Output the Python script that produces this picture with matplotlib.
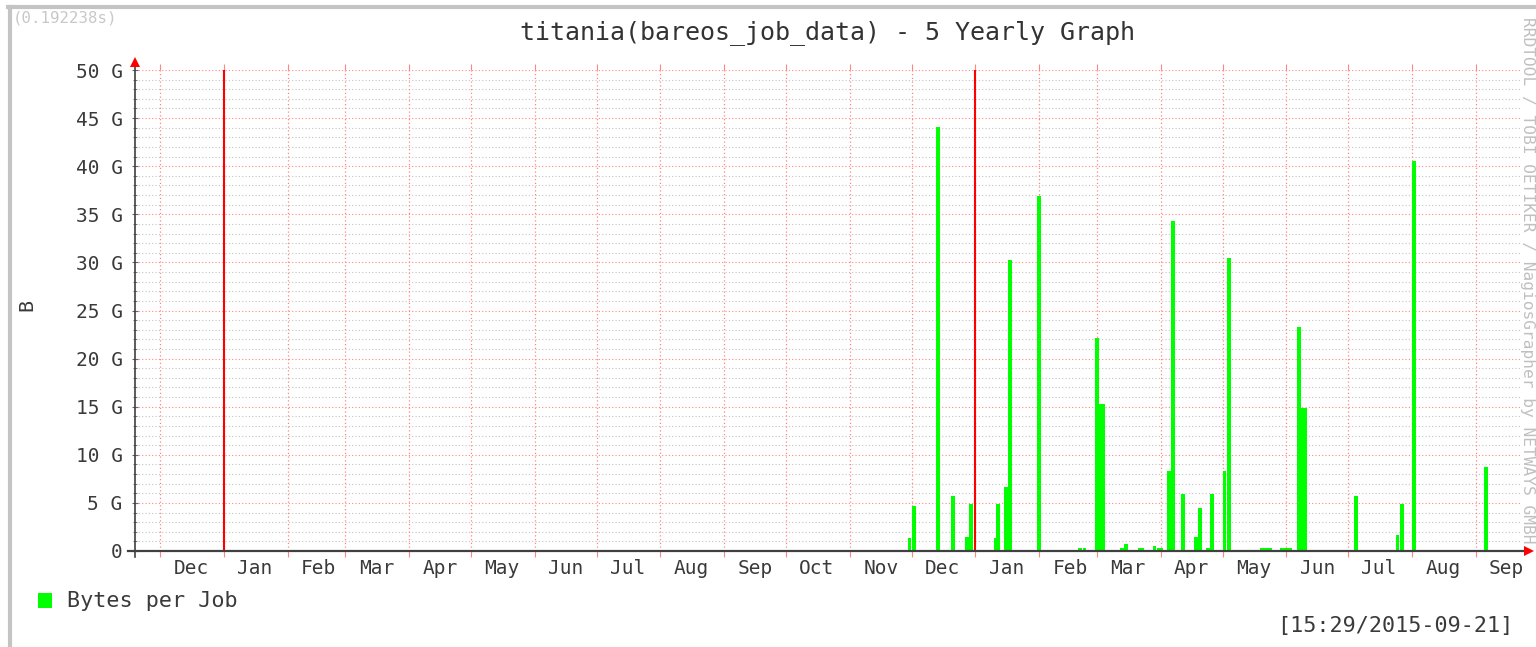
import matplotlib
matplotlib.use("Agg")
import matplotlib.pyplot as plt
import matplotlib.dates as mdates
from matplotlib.patches import Rectangle
from matplotlib.lines import Line2D
from matplotlib.ticker import FixedLocator, FixedFormatter, NullFormatter
from datetime import datetime

# ---------------- data ----------------
job_dates = [
    "2014-11-29", "2014-12-01", "2014-12-13", "2014-12-20", "2014-12-27", "2014-12-29",
    "2015-01-10", "2015-01-11", "2015-01-15", "2015-01-17", "2015-01-31",
    "2015-02-20", "2015-02-22", "2015-02-28", "2015-03-02", "2015-03-03",
    "2015-03-12", "2015-03-14", "2015-03-21", "2015-03-22", "2015-03-28", "2015-03-30", "2015-03-31",
    "2015-04-04", "2015-04-06", "2015-04-11", "2015-04-17", "2015-04-19", "2015-04-23", "2015-04-25",
    "2015-05-01", "2015-05-03", "2015-05-19", "2015-05-21", "2015-05-23", "2015-05-29", "2015-05-31",
    "2015-06-02", "2015-06-06", "2015-06-08", "2015-06-09",
    "2015-07-04", "2015-07-24", "2015-07-26", "2015-08-01", "2015-09-05",
]
job_bytes_gb = [
    1.3, 4.7, 44.1, 5.7, 1.5, 4.9,
    1.3, 4.9, 6.7, 30.3, 36.9,
    0.3, 0.3, 22.1, 15.3, 15.3,
    0.3, 0.7, 0.3, 0.3, 0.5, 0.3, 0.3,
    8.3, 34.3, 5.9, 1.5, 4.5, 0.3, 5.9,
    8.3, 30.5, 0.3, 0.3, 0.3, 0.3, 0.3,
    0.3, 23.3, 14.9, 14.9,
    5.7, 1.7, 4.9, 40.5, 8.7,
]
year_rule_dates = ["2014-01-01", "2015-01-01"]
month_labels = ["Dec", "Jan", "Feb", "Mar", "Apr", "May", "Jun", "Jul", "Aug", "Sep", "Oct", "Nov",
                "Dec", "Jan", "Feb", "Mar", "Apr", "May", "Jun", "Jul", "Aug", "Sep"]
first_label_month = (2013, 12)
y_tick_values = [0, 5, 10, 15, 20, 25, 30, 35, 40, 45, 50]
y_tick_labels = ["0", "5 G", "10 G", "15 G", "20 G", "25 G", "30 G", "35 G", "40 G", "45 G", "50 G"]
x_start = "2013-11-18 18:40"
x_end = "2015-09-23 10:30"

title = "titania(bareos_job_data) - 5 Yearly Graph"
legend_label = "Bytes per Job"
timestamp = "[15:29/2015-09-21]"
timing = "(0.192238s)"
watermark = "RRDTOOL / TOBI OETIKER / NagiosGrapher by NETWAYS GMBH"
y_label = "B"

# ---------------- figure ----------------
W, H = 1536, 647
plt.rcParams["font.family"] = ["DejaVu Sans Mono", "DejaVu Sans"]
fig = plt.figure(figsize=(W / 100, H / 100), dpi=100)
fig.patch.set_facecolor("white")

L, R, T, B = 135, 1522, 70, 551
ax = fig.add_axes([L / W, (H - B) / H, (R - L) / W, (B - T) / H])
ax.set_facecolor("white")

dates = [datetime.strptime(d, "%Y-%m-%d") for d in job_dates]
ax.set_xlim(datetime.strptime(x_start, "%Y-%m-%d %H:%M"), datetime.strptime(x_end, "%Y-%m-%d %H:%M"))
ax.set_ylim(0, 50)

MGRID = "#FF8585"
GRID = "#C4C4C4"
TXT = "#3A3A3A"

# horizontal grid
for v in range(1, 51):
    if v % 5 == 0:
        ax.axhline(v, color=MGRID, lw=0.8, ls=(0, (1, 2)), zorder=1.5)
    else:
        ax.axhline(v, color=GRID, lw=0.8, ls=(0, (1, 2)), zorder=1)

# month boundaries (vertical grid)
month_starts = []
y, m = 2013, 12
while True:
    d = datetime(y, m, 1)
    if d > datetime(2015, 9, 30):
        break
    month_starts.append(d)
    m += 1
    if m > 12:
        m = 1
        y += 1
for d in month_starts:
    ax.axvline(d, color=MGRID, lw=0.9, ls=(0, (1, 2)), zorder=2)

# bars
ax.bar(dates, job_bytes_gb, width=1.9, align="edge", color="#00FF00", linewidth=0, zorder=3)

# year rules
for d in year_rule_dates:
    ax.axvline(datetime.strptime(d, "%Y-%m-%d"), color="#FF0000", lw=1.5, zorder=4)

# ticks
mid_months = []
y, m = first_label_month
for _ in month_labels:
    mid_months.append(mdates.date2num(datetime(y, m, 16)))
    m += 1
    if m > 12:
        m = 1
        y += 1
ax.xaxis.set_major_locator(FixedLocator([mdates.date2num(d) for d in month_starts]))
ax.xaxis.set_major_formatter(NullFormatter())
ax.xaxis.set_minor_locator(FixedLocator(mid_months))
ax.xaxis.set_minor_formatter(FixedFormatter(month_labels))
ax.tick_params(axis="x", which="major", direction="out", length=4, width=0.8, color=MGRID,
               top=True, bottom=True)
ax.tick_params(axis="x", which="minor", length=0, pad=6, labelsize=14, labelcolor=TXT)

ax.yaxis.set_major_locator(FixedLocator(y_tick_values))
ax.yaxis.set_major_formatter(FixedFormatter(y_tick_labels))
ax.yaxis.set_minor_locator(FixedLocator(list(range(0, 51))))
ax.tick_params(axis="y", which="major", direction="inout", length=4, width=0.8, color="#666666",
               pad=7, labelsize=14, labelcolor=TXT)
ax.tick_params(axis="y", which="minor", direction="inout", length=2.5, width=0.6, color="#666666")

for s in ax.spines.values():
    s.set_visible(False)

# axis lines with arrows
ax.plot([0, 0], [-6 / (B - T), (B - 62) / (B - T)], transform=ax.transAxes, color="#404040",
        lw=1.2, clip_on=False, zorder=5)
ax.plot([-7 / (R - L), (1526 - L) / (R - L)], [0, 0], transform=ax.transAxes, color="#404040",
        lw=1.6, clip_on=False, zorder=5)
ax.plot([0], [(B - 62) / (B - T)], transform=ax.transAxes, marker="^", color="#FF0000",
        markersize=7, clip_on=False, zorder=6, markeredgewidth=0)
ax.plot([(1529 - L) / (R - L)], [0], transform=ax.transAxes, marker=">", color="#FF0000",
        markersize=7, clip_on=False, zorder=6, markeredgewidth=0)

# texts
fig.text(828 / W, 1 - 33 / H, title, ha="center", va="center", fontsize=18, color="#333333")
fig.text(13 / W, 1 - 18 / H, timing, ha="left", va="center", fontsize=11.3, color="#C8C8C8")
fig.text(27 / W, 1 - 305 / H, y_label, ha="center", va="center", fontsize=14.4, rotation=90, color=TXT)
fig.text(1527 / W, 1 - 17 / H, watermark, ha="center", va="top", rotation=-90, fontsize=11.7,
         color="#C0C0C0")
fig.text(1513 / W, 1 - 626 / H, timestamp, ha="right", va="center", fontsize=15.7, color=TXT)

fig.patches.append(Rectangle((38 / W, 1 - 608 / H), 14 / W, 15 / H, transform=fig.transFigure,
                             facecolor="#00FF00", edgecolor="none"))
fig.text(67 / W, 1 - 601 / H, legend_label, ha="left", va="center", fontsize=15.7, color=TXT)

# frame (top and left)
fig.add_artist(Line2D([8 / W, 1], [1 - 7 / H, 1 - 7 / H], transform=fig.transFigure,
                      color="#C4C4C4", lw=3))
fig.add_artist(Line2D([10 / W, 10 / W], [0, 1 - 7 / H], transform=fig.transFigure,
                      color="#C4C4C4", lw=3))

fig.savefig("out.png", dpi=100, facecolor="white")
